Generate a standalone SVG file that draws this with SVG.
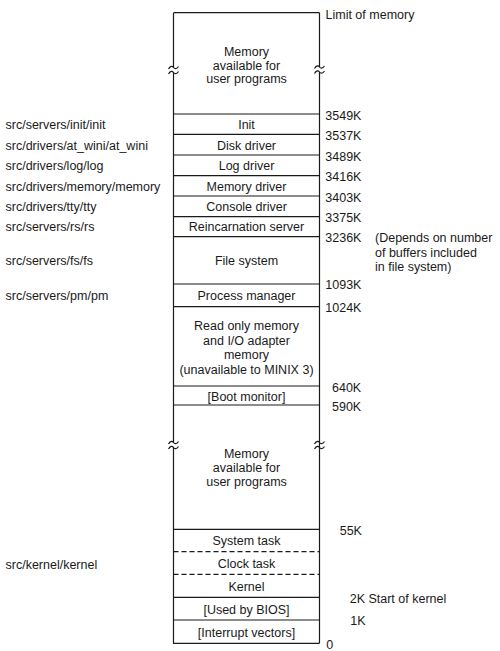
<svg xmlns="http://www.w3.org/2000/svg" width="500" height="651" viewBox="0 0 500 651">
<style>
text{font-family:"Liberation Sans",Arial,sans-serif;font-size:12.5px;fill:#1a1a1a}
.c{text-anchor:middle}
.ln{stroke:#1a1a1a;stroke-width:1.2;fill:none}
.d{stroke-dasharray:5,3}
</style>
<defs>
<path id="tl" d="M-5,1.5 C-3,-2 -1,-1.5 0,0 S3,2 5,-1" class="ln"/>
</defs>
<rect width="500" height="651" fill="#fff"/>
<g id="frame">
<path class="ln" d="M173.5,12.7 H319.5 M173.5,12.7 V67.5 M173.5,72.5 V442.5 M173.5,447.5 V643.3 H319.5 M319.5,12.7 V67 M319.5,72 V643.3"/>
<use href="#tl" x="173.5" y="67.5"/>
<use href="#tl" x="173.5" y="72.5"/>
<use href="#tl" x="319.5" y="67"/>
<use href="#tl" x="319.5" y="72"/>
<use href="#tl" x="173.5" y="442.5"/>
<use href="#tl" x="173.5" y="447.5"/>
<use href="#tl" x="319.5" y="442.5"/>
<use href="#tl" x="319.5" y="447.5"/>
<path class="ln" d="M173.5,114 H319.5 M173.5,134.3 H319.5 M173.5,155 H319.5 M173.5,175.7 H319.5 M173.5,196 H319.5 M173.5,216.7 H319.5 M173.5,236.7 H319.5 M173.5,284 H319.5 M173.5,306.7 H319.5 M173.5,386 H319.5 M173.5,405 H319.5 M173.5,529.3 H319.5 M173.5,597.3 H319.5 M173.5,620 H319.5"/>
<path class="ln d" d="M173.5,551.7 H319.5 M173.5,574.3 H319.5"/>
</g>
<g id="user-top"><text class="c" x="246.5" y="56.2">Memory</text><text class="c" x="246.5" y="69.5">available for</text><text class="c" x="246.5" y="82.8">user programs</text></g>
<g id="init"><text class="c" x="246.5" y="129.2">Init</text></g>
<g id="disk"><text class="c" x="246.5" y="149.5">Disk driver</text></g>
<g id="log"><text class="c" x="246.5" y="169.8">Log driver</text></g>
<g id="memdrv"><text class="c" x="246.5" y="190.5">Memory driver</text></g>
<g id="console"><text class="c" x="246.5" y="211.2">Console driver</text></g>
<g id="rs"><text class="c" x="246.5" y="231.2">Reincarnation server</text></g>
<g id="fs"><text class="c" x="246.5" y="265.2">File system</text></g>
<g id="pm"><text class="c" x="246.5" y="299.5">Process manager</text></g>
<g id="rom"><text class="c" x="246.5" y="330.2">Read only memory</text><text class="c" x="246.5" y="344.5">and I/O adapter</text><text class="c" x="246.5" y="358.5">memory</text><text class="c" x="246.5" y="373.5">(unavailable to MINIX 3)</text></g>
<g id="boot"><text class="c" x="246.5" y="401.2">[Boot monitor]</text></g>
<g id="user-low"><text class="c" x="246.5" y="457.8">Memory</text><text class="c" x="246.5" y="472.2">available for</text><text class="c" x="246.5" y="486.2">user programs</text></g>
<g id="system"><text class="c" x="246.5" y="545.2">System task</text></g>
<g id="clock"><text class="c" x="246.5" y="567.8">Clock task</text></g>
<g id="kernel"><text class="c" x="246.5" y="591.2">Kernel</text></g>
<g id="bios"><text class="c" x="246.5" y="613.5">[Used by BIOS]</text></g>
<g id="ivec"><text class="c" x="246.5" y="636.8">[Interrupt vectors]</text></g>
<g id="left-labels">
<text x="5.5" y="129.2">src/servers/init/init</text>
<text x="5.5" y="149.5">src/drivers/at_wini/at_wini</text>
<text x="5.5" y="169.8">src/drivers/log/log</text>
<text x="5.5" y="190.5">src/drivers/memory/memory</text>
<text x="5.5" y="211.2">src/drivers/tty/tty</text>
<text x="5.5" y="231.2">src/servers/rs/rs</text>
<text x="5.5" y="265.2">src/servers/fs/fs</text>
<text x="5.5" y="299.5">src/servers/pm/pm</text>
<text x="5.5" y="568.5">src/kernel/kernel</text>
</g>
<g id="right-labels">
<text x="325.5" y="18.5">Limit of memory</text>
<text x="325.3" y="119.5">3549K</text>
<text x="325.3" y="140">3537K</text>
<text x="325.3" y="160.5">3489K</text>
<text x="325.3" y="181">3416K</text>
<text x="325.3" y="201.5">3403K</text>
<text x="325.3" y="222">3375K</text>
<text x="325.3" y="242">3236K</text>
<text x="375" y="242">(Depends on number</text>
<text x="375" y="256.5">of buffers included</text>
<text x="375" y="271">in file system)</text>
<text x="325.3" y="288.8">1093K</text>
<text x="325.3" y="311.5">1024K</text>
<text x="332" y="392">640K</text>
<text x="332" y="411">590K</text>
<text x="339.7" y="534.5">55K</text>
<text x="349.7" y="602.8">2K Start of kernel</text>
<text x="350.3" y="625.2">1K</text>
<text x="326.3" y="648.5">0</text>
</g>
</svg>
